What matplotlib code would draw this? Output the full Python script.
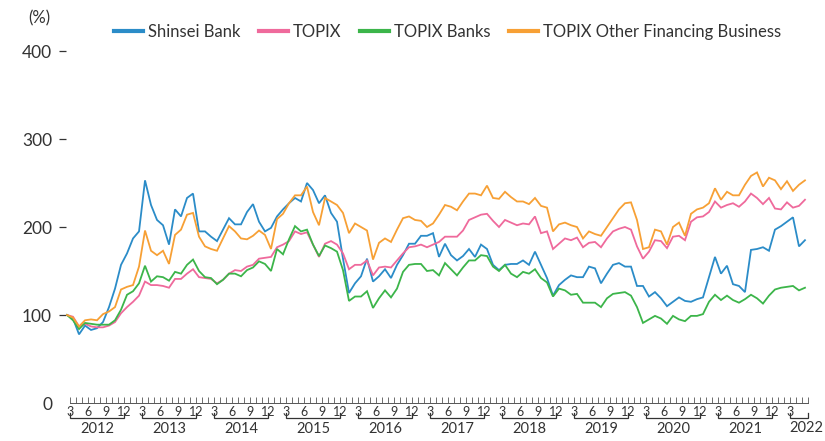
import matplotlib.pyplot as plt
import numpy as np
import pandas as pd
from matplotlib.lines import Line2D

plt.rcParams.update({
    "font.family": ["Lato", "DejaVu Sans"],
    "text.color": "#333333",
    "axes.labelcolor": "#333333",
    "xtick.color": "#333333",
    "ytick.color": "#333333",
})

# Monthly index, March 2012 = 100
shinsei = [
    100, 96, 78, 88, 83, 85, 92, 109, 130, 157,
    170, 187, 195, 253, 225, 208, 202, 180, 220, 212,
    233, 238, 195, 195, 189, 184, 197, 210, 203, 203,
    217, 226, 206, 195, 199, 212, 220, 227, 233, 229,
    250, 242, 227, 236, 216, 206, 164, 125, 136, 144,
    164, 138, 144, 152, 142, 157, 168, 181, 181, 190,
    190, 193, 166, 181, 168, 162, 167, 175, 166, 180,
    175, 157, 151, 157, 158, 158, 162, 157, 172, 157,
    142, 122, 134, 140, 145, 143, 143, 155, 153, 136,
    147, 157, 159, 155, 155, 133, 133, 121, 126, 119,
    110, 115, 120, 116, 115, 118, 120, 143, 166, 147,
    156, 135, 133, 126, 174, 175, 177, 173, 197, 201,
    206, 211, 178, 185,
]
topix = [
    100, 98, 87, 90, 87, 86, 86, 88, 92, 102,
    109, 115, 122, 138, 134, 134, 133, 131, 141, 141,
    147, 152, 143, 142, 141, 136, 140, 147, 151, 150,
    155, 157, 164, 165, 166, 177, 180, 184, 195, 192,
    194, 180, 166, 181, 184, 180, 170, 152, 157, 157,
    162, 145, 154, 155, 154, 162, 170, 177, 178, 180,
    177, 180, 183, 189, 189, 189, 196, 208, 211, 214,
    215, 207, 200, 208, 205, 202, 204, 203, 212, 193,
    195, 175, 181, 187, 185, 188, 177, 182, 183, 177,
    187, 195, 198, 200, 197, 178, 164, 172, 185, 184,
    176, 189, 190, 185, 206, 211, 212, 217, 229, 222,
    225, 227, 223, 229, 238, 233, 226, 233, 221, 220,
    228, 222, 224, 231,
]
topix_banks = [
    100, 94, 84, 91, 90, 89, 89, 89, 94, 106,
    123, 127, 136, 156, 138, 144, 143, 139, 149, 147,
    157, 163, 150, 143, 142, 135, 140, 147, 147, 144,
    151, 154, 161, 158, 150, 175, 169, 186, 201, 195,
    197, 180, 167, 179, 176, 172, 151, 116, 121, 121,
    127, 108, 119, 128, 120, 130, 149, 157, 158, 158,
    150, 151, 145, 159, 152, 145, 154, 162, 162, 168,
    167, 155, 150, 157, 147, 143, 149, 147, 152, 142,
    137, 121, 130, 128, 123, 124, 114, 114, 114, 109,
    119, 124, 125, 126, 122, 109, 91, 95, 99, 96,
    90, 99, 95, 93, 99, 99, 101, 115, 123, 117,
    122, 117, 114, 118, 123, 119, 113, 122, 129, 131,
    132, 133, 128, 131,
]
topix_other_fin = [
    100, 97, 87, 94, 95, 94, 101, 104, 109, 129,
    132, 134, 155, 196, 173, 168, 173, 158, 191, 197,
    214, 216, 189, 178, 175, 173, 187, 201, 195, 187,
    186, 190, 196, 191, 175, 209, 215, 227, 236, 236,
    246, 217, 202, 233, 229, 225, 216, 193, 204, 200,
    196, 163, 182, 187, 183, 197, 210, 212, 208, 207,
    200, 204, 214, 225, 223, 219, 229, 238, 238, 236,
    247, 233, 232, 240, 234, 229, 229, 226, 233, 224,
    222, 195, 203, 205, 202, 200, 187, 195, 192, 190,
    200, 210, 220, 227, 228, 208, 175, 177, 197, 195,
    180, 200, 205, 190, 215, 220, 222, 227, 244, 231,
    240, 236, 236, 248, 258, 262, 246, 256, 253, 243,
    252, 241, 248, 253,
]

series_labels = ["Shinsei Bank", "TOPIX", "TOPIX Banks", "TOPIX Other Financing Business"]
series_colors = ["#2b8cc8", "#ef6a9c", "#3cb54a", "#f7a035"]
y_ticks = [0, 100, 200, 300, 400]

months = pd.period_range("2012-03", periods=len(shinsei), freq="M")
x = np.arange(len(months))

fig = plt.figure(figsize=(8.25, 4.41), dpi=100)
W, H = 825, 441
ax = fig.add_axes([66 / W, (H - 410) / H, (815 - 66) / W, (410 - 40) / H])

for vals, color in zip([shinsei, topix, topix_banks, topix_other_fin], series_colors):
    ax.plot(x, vals, color=color, lw=1.3, solid_joinstyle="miter")

ax.set_xlim(-0.17, 124.67)
ax.set_ylim(-7.95, 412.5)

for side in ["top", "right", "left"]:
    ax.spines[side].set_visible(False)
ax.spines["bottom"].set_position(("data", 0))
ax.spines["bottom"].set_bounds(0.5, len(x) - 0.5)
ax.spines["bottom"].set_color("#555555")
ax.spines["bottom"].set_linewidth(0.7)

# y axis: short dash ticks, no tick for 0
ax.set_yticks(y_ticks)
ax.set_yticklabels([str(v) for v in y_ticks])
ax.tick_params(axis="y", length=5, width=0.9, pad=5, labelsize=12.5)
ax.yaxis.get_major_ticks()[0].tick1line.set_visible(False)

# x axis: ruler of monthly ticks, label every quarter (the partial last quarter is left blank)
last_label = max(i for i, m in enumerate(months) if m.month == 3)
ax.set_xticks(x + 0.5)
ax.set_xticklabels([str(m.month) if m.month % 3 == 0 and i <= last_label else ""
                    for i, m in enumerate(months)])
ax.tick_params(axis="x", direction="in", length=4.3, width=0.6, color="#555555",
               pad=2, labelsize=9)

# year brackets
for year in sorted(set(m.year for m in months)):
    idx = [i for i, m in enumerate(months) if m.year == year]
    first = min(i for i in idx if months[i].month >= 3) + 0.5
    last = max(idx) + 0.5
    ax.plot([first, first, last, last], [-11, -17, -17, -11], color="#333333",
            lw=0.9, clip_on=False, solid_joinstyle="miter")
    if year == months[-1].year:
        fig.text(823 / W, 1 - 428 / H, str(year), ha="right", va="center", fontsize=10.5)
    else:
        ax.text((first + last) / 2, -29, str(year), ha="center", va="center",
                fontsize=10.5, clip_on=False)

fig.text(28 / W, 1 - 18 / H, "(%)", ha="left", va="center", fontsize=12)

handles = [Line2D([0], [0], color=c, lw=3) for c in series_colors]
fig.legend(handles, series_labels, loc="center left", bbox_to_anchor=(107 / W, 1 - 32 / H),
           ncol=4, frameon=False, fontsize=12, handlelength=1.75, handletextpad=0.3,
           columnspacing=1.1, borderaxespad=0)

fig.savefig("out.png", dpi=100)
